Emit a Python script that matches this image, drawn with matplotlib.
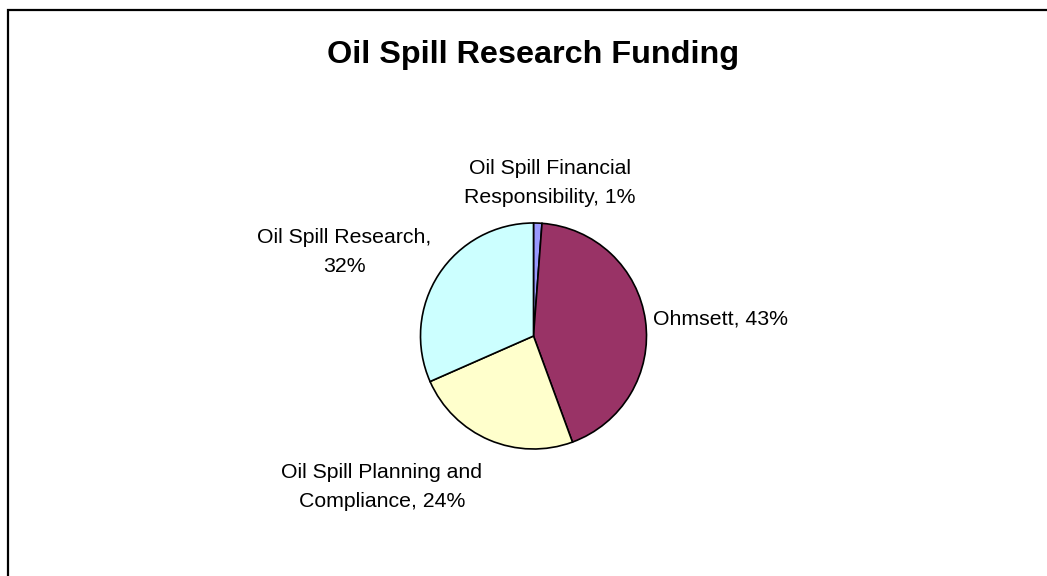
import matplotlib
matplotlib.use("Agg")
import matplotlib.pyplot as plt
from matplotlib.patches import Rectangle

plt.rcParams['font.family'] = ['Liberation Sans', 'DejaVu Sans']

# slices, clockwise from 12 o'clock
names = ["Oil Spill Financial\nResponsibility", "Ohmsett",
         "Oil Spill Planning and\nCompliance", "Oil Spill Research,\n"]
shares = [1.2, 43.2, 24.0, 31.6]
colors = ["#9999FF", "#993366", "#FFFFCC", "#CCFFFF"]

# label anchor points in pie-radius units (x, last-line baseline y, alignment)
label_pos = [(0.146, 1.177, 'center'), (1.058, 0.106, 'left'),
             (-1.341, -1.513, 'center'), (-1.677, 0.566, 'center')]

fig = plt.figure(figsize=(10.47, 5.76), dpi=100)
W, H = 1047, 576

# chart frame (runs off the right and bottom of the picture)
fig.patches.append(Rectangle((8 / W, -0.1), 1.2, 1 - 10 / H + 0.1,
                             transform=fig.transFigure, fill=False,
                             edgecolor='black', linewidth=1.6))

fig.text(533 / W, 1 - 63 / H, "Oil Spill Research Funding",
         ha='center', va='baseline', fontsize=23.3, fontweight='bold')

cx, cy, r = 533.5, 336, 113
ax = fig.add_axes([(cx - r) / W, (H - cy - r) / H, 2 * r / W, 2 * r / H])
ax.pie(shares, colors=colors, startangle=90, counterclock=False, radius=1,
       wedgeprops=dict(edgecolor='black', linewidth=1.2))
ax.set_xlim(-1, 1)
ax.set_ylim(-1, 1)
ax.set_aspect('equal')
ax.axis('off')

for name, val, (x, y, ha) in zip(names, shares, label_pos):
    sep = "" if name.endswith("\n") else ", "
    ax.text(x, y, f"{name}{sep}{round(val)}%", ha=ha, va='baseline',
            multialignment='center', fontsize=15.3, linespacing=1.67,
            clip_on=False)

fig.savefig("out.png", dpi=100)
